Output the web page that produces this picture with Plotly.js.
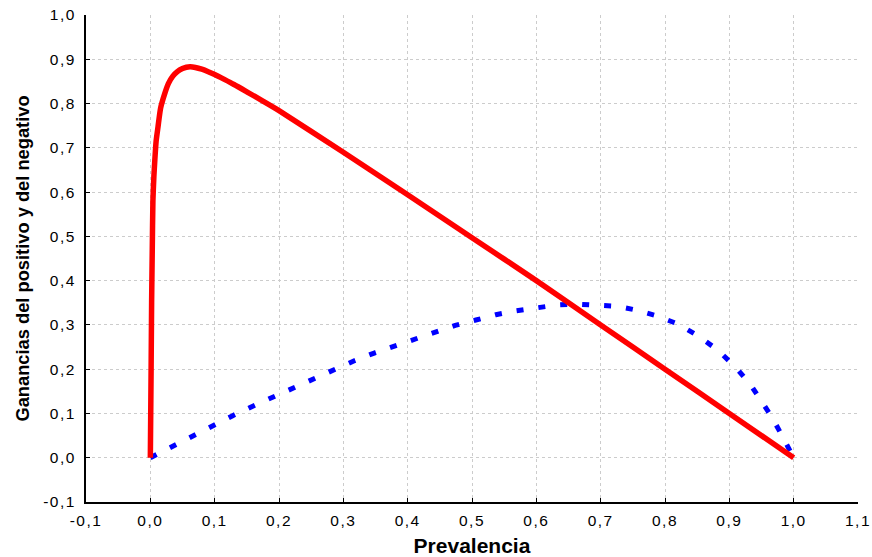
<!DOCTYPE html>
<html>
<head>
<meta charset="utf-8">
<script src="https://cdn.plot.ly/plotly-3.0.1.min.js"></script>
<style>
html,body{margin:0;padding:0;background:#fff;}
#chart{width:872px;height:557px;}
#chart .xtick text, #chart .ytick text{letter-spacing:1.5px;}
</style>
</head>
<body>
<div id="chart"></div>
<script>
// Red curve: gain of the positive
const redX = [0, 0.0012, 0.002, 0.003, 0.004, 0.0055, 0.007, 0.009, 0.012, 0.016, 0.0225, 0.028, 0.035, 0.042, 0.05, 0.056, 0.062, 0.07, 0.08, 0.09, 0.1, 0.115, 0.13, 0.15, 0.175, 0.2, 0.3, 0.4, 0.5, 0.6, 0.7, 0.8, 0.9, 1.0];
const redY = [0, 0.2, 0.35, 0.47, 0.58, 0.635, 0.673, 0.715, 0.748, 0.79, 0.823, 0.845, 0.862, 0.872, 0.879, 0.882, 0.883, 0.8815, 0.8775, 0.872, 0.8655, 0.8545, 0.843, 0.8265, 0.8055, 0.784, 0.690, 0.594, 0.497, 0.400, 0.300, 0.200, 0.100, 0.0];
// Blue dotted curve: gain of the negative
const blueX = [0, 0.034, 0.065, 0.097, 0.128, 0.16, 0.192, 0.223, 0.254, 0.286, 0.317, 0.349, 0.380, 0.412, 0.443, 0.474, 0.506, 0.537, 0.569, 0.600, 0.632, 0.663, 0.695, 0.726, 0.757, 0.786, 0.82, 0.852, 0.883, 0.91, 0.932, 0.950, 0.966, 0.98, 0.993, 1.0];
const blueY = [0, 0.026, 0.050, 0.073, 0.095, 0.117, 0.138, 0.160, 0.180, 0.199, 0.219, 0.237, 0.253, 0.270, 0.285, 0.299, 0.311, 0.323, 0.332, 0.339, 0.345, 0.347, 0.345, 0.342, 0.333, 0.321, 0.302, 0.275, 0.242, 0.204, 0.167, 0.129, 0.092, 0.055, 0.017, 0.0];
const xTickVals = [-0.1, 0, 0.1, 0.2, 0.3, 0.4, 0.5, 0.6, 0.7, 0.8, 0.9, 1.0, 1.1];
const xTickText = ["-0,1", "0,0", "0,1", "0,2", "0,3", "0,4", "0,5", "0,6", "0,7", "0,8", "0,9", "1,0", "1,1"];
const yTickVals = [-0.1, 0, 0.1, 0.2, 0.3, 0.4, 0.5, 0.6, 0.7, 0.8, 0.9, 1.0];
const yTickText = ["-0,1", "0,0", "0,1", "0,2", "0,3", "0,4", "0,5", "0,6", "0,7", "0,8", "0,9", "1,0"];
const xTitle = "Prevalencia";
const yTitle = "Ganancias del positivo y del negativo";

const traces = [
  {x: blueX, y: blueY, mode: 'lines', line: {color: '#0000ff', width: 5, dash: '7px,15px'}, hoverinfo: 'skip'},
  {x: redX, y: redY, mode: 'lines', line: {color: '#ff0000', width: 5.5, shape: 'spline', smoothing: 0.6}, hoverinfo: 'skip'}
];
const tickFont = {family: 'Liberation Sans, Arial, sans-serif', size: 15.5, color: '#000'};
const layout = {
  width: 872, height: 557,
  margin: {l: 86, r: 14, t: 15, b: 55},
  paper_bgcolor: '#fff', plot_bgcolor: '#fff',
  showlegend: false,
  xaxis: {
    range: [-0.1, 1.1], tickvals: xTickVals, ticktext: xTickText,
    ticks: 'inside', ticklen: 4, tickcolor: '#000', tickwidth: 1,
    showline: true, linecolor: '#000', linewidth: 2,
    showgrid: true, gridcolor: '#cccccc', griddash: 'dot', gridwidth: 1,
    zeroline: false, tickfont: tickFont, ticklabelstandoff: 3,
    title: {text: xTitle, font: {family: 'Liberation Sans, Arial, sans-serif', size: 21, color: '#000', weight: 'bold'}, standoff: 11}
  },
  yaxis: {
    range: [-0.1, 1.0], tickvals: yTickVals, ticktext: yTickText,
    ticks: 'inside', ticklen: 4, tickcolor: '#000', tickwidth: 1,
    showline: true, linecolor: '#000', linewidth: 2,
    showgrid: true, gridcolor: '#cccccc', griddash: 'dot', gridwidth: 1,
    zeroline: false, tickfont: tickFont, ticklabelstandoff: 5,
    title: {text: yTitle, font: {family: 'Liberation Sans, Arial, sans-serif', size: 18.3, color: '#000', weight: 'bold'}, standoff: 15}
  },
  xaxis2: {
    overlaying: 'x', side: 'top', matches: 'x', range: [-0.1, 1.1], tickvals: xTickVals,
    showticklabels: false, ticks: 'inside', ticklen: 4, tickcolor: '#000',
    showline: true, linecolor: '#777', linewidth: 3, showgrid: false, zeroline: false
  },
  yaxis2: {
    overlaying: 'y', side: 'right', matches: 'y', range: [-0.1, 1.0], tickvals: yTickVals,
    showticklabels: false, ticks: 'inside', ticklen: 4, tickcolor: '#000',
    showline: true, linecolor: '#777', linewidth: 3, showgrid: false, zeroline: false
  }
};
Plotly.newPlot('chart', traces, layout, {staticPlot: true});
</script>
</body>
</html>
